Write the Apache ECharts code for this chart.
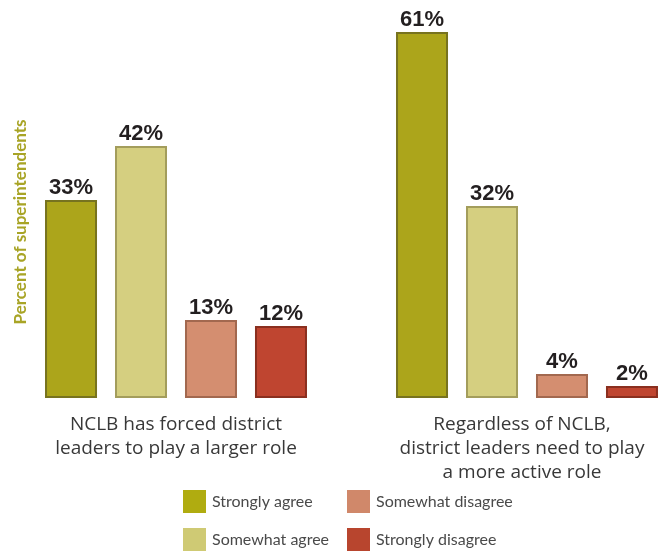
<!DOCTYPE html>
<html>
<head>
<meta charset="utf-8">
<script src="https://cdn.jsdelivr.net/npm/echarts@6/dist/echarts.min.js"></script>
<style>
  html, body { margin: 0; padding: 0; background: #ffffff; }
  #chart { width: 664px; height: 552px; }
</style>
</head>
<body>
<div id="chart"></div>
<script>
// Survey statements, one per bar group
const categories = [
  'NCLB has forced district\nleaders to play a larger role',
  'Regardless of NCLB,\ndistrict leaders need to play\na more active role'
];

// Response shares, percent of superintendents
const seriesNames = ['Strongly agree', 'Somewhat agree', 'Somewhat disagree', 'Strongly disagree'];
const stronglyAgree = [33, 61];
const somewhatAgree = [42, 32];
const somewhatDisagree = [13, 4];
const stronglyDisagree = [12, 2];

const values = [stronglyAgree, somewhatAgree, somewhatDisagree, stronglyDisagree];
const fills = ['#aca51b', '#d5cf80', '#d48e70', '#bf4530'];
const edges = ['#77731f', '#a39d5c', '#a2684f', '#8a2f1f'];
const legendColors = ['#b0ac10', '#cfca74', '#d0886a', '#b8452e'];
const legendSpots = [[183, 490], [183, 528], [347, 490], [347, 528]];

// each statement gets its own grid so the two groups can sit where they belong
const gridLefts = [41, 392];

const chart = echarts.init(document.getElementById('chart'), null, { renderer: 'canvas' });

const grids = gridLefts.map(l => ({ left: l, width: 270, top: 8, bottom: 154 }));

const xAxes = categories.map((c, g) => ({
  type: 'category',
  gridIndex: g,
  data: [c],
  axisLine: { show: false },
  axisTick: { show: false },
  axisLabel: {
    margin: 15,
    fontFamily: '"Open Sans", Lato, sans-serif',
    fontSize: 19,
    lineHeight: 24,
    color: '#383838',
    align: 'center',
    padding: g === 1 ? [0, 10, 0, 0] : 0
  }
}));

const yAxes = categories.map((c, g) => ({
  type: 'value',
  gridIndex: g,
  min: 0,
  max: 65,
  show: false,
  splitLine: { show: false }
}));

const series = [];
categories.forEach((c, g) => {
  seriesNames.forEach((name, i) => {
    series.push({
      name: name,
      type: 'bar',
      xAxisIndex: g,
      yAxisIndex: g,
      data: [values[i][g]],
      barWidth: 52,
      barGap: '34.6%',
      itemStyle: {
        color: fills[i],
        borderColor: edges[i],
        borderWidth: 2
      },
      label: {
        show: true,
        position: 'top',
        distance: 1,
        formatter: '{c}%',
        fontFamily: '"Liberation Sans", Arial, sans-serif',
        fontWeight: 'bold',
        fontSize: 22,
        color: '#231f20'
      }
    });
  });
});

const legends = seriesNames.map((name, i) => ({
  show: true,
  left: legendSpots[i][0],
  top: legendSpots[i][1],
  padding: 0,
  itemWidth: 23,
  itemHeight: 23,
  itemGap: 6,
  selectedMode: false,
  icon: 'rect',
  data: [{ name: name, itemStyle: { color: legendColors[i], borderWidth: 0 } }],
  textStyle: {
    fontFamily: 'Lato, "Open Sans", sans-serif',
    fontSize: 16,
    color: '#4a4a4a',
    padding: [0, 0, 0, 1]
  }
}));

chart.setOption({
  animation: false,
  backgroundColor: '#ffffff',
  grid: grids,
  legend: legends,
  xAxis: xAxes,
  yAxis: yAxes,
  graphic: [{
    type: 'text',
    x: 21,
    y: 222,
    rotation: Math.PI / 2,
    style: {
      text: 'Percent of superintendents',
      fontFamily: 'Lato, "Open Sans", sans-serif',
      fontWeight: 'bold',
      fontSize: 17,
      fill: '#a8a426',
      align: 'center',
      verticalAlign: 'middle'
    }
  }],
  series: series
});
</script>
</body>
</html>
